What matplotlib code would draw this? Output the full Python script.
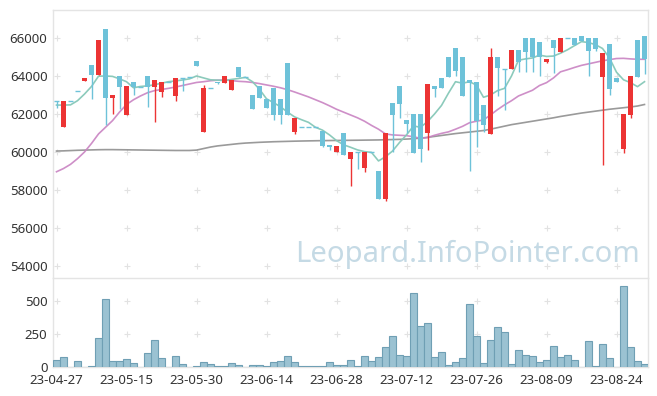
import matplotlib
matplotlib.use('Agg')
import matplotlib.pyplot as plt
import numpy as np

plt.rcParams['font.family'] = ['Noto Sans', 'DejaVu Sans']

dates = ["23-04-27","23-04-28","23-05-02","23-05-03","23-05-04","23-05-08","23-05-09","23-05-10","23-05-11","23-05-12",
         "23-05-15","23-05-16","23-05-17","23-05-18","23-05-19","23-05-22","23-05-23","23-05-24","23-05-25","23-05-26",
         "23-05-30","23-05-31","23-06-01","23-06-02","23-06-05","23-06-07","23-06-08","23-06-09","23-06-12","23-06-13",
         "23-06-14","23-06-15","23-06-16","23-06-19","23-06-20","23-06-21","23-06-22","23-06-23","23-06-26","23-06-27",
         "23-06-28","23-06-29","23-06-30","23-07-03","23-07-04","23-07-05","23-07-06","23-07-07","23-07-10","23-07-11",
         "23-07-12","23-07-13","23-07-14","23-07-17","23-07-18","23-07-19","23-07-20","23-07-21","23-07-24","23-07-25",
         "23-07-26","23-07-27","23-07-28","23-07-31","23-08-01","23-08-02","23-08-03","23-08-04","23-08-07","23-08-08",
         "23-08-09","23-08-10","23-08-11","23-08-14","23-08-16","23-08-17","23-08-18","23-08-21","23-08-22","23-08-23",
         "23-08-24","23-08-25","23-08-28","23-08-29","23-08-30"]

open_ = [62700,61330,62700,63200,63750,64580,64050,66470,62860,64000,
         61950,63680,63420,64000,63400,63180,63680,62960,63890,63950,
         64790,61070,63350,63700,63650,63280,64490,63960,63000,63470,
         62790,63380,62790,64700,61070,61300,61300,61300,61100,60370,
         59980,61000,59650,59980,59170,59980,59000,57530,62570,63470,
         61680,62000,62000,61000,63470,63880,65000,65460,65000,63790,
         63690,62470,60950,65000,64350,64350,65370,65980,65980,65770,
         64750,65900,65280,65980,65980,66100,65980,65980,63960,65680,
         63890,60180,61950,65900,66100]
high = [62700,62700,62700,63200,63900,64580,65900,66470,63000,64000,
        63470,63680,63420,64000,63790,63680,63680,63890,63890,63950,
        64790,63530,63350,63700,64000,63790,64490,63960,63000,63470,
        62790,63380,62790,64700,61810,61300,61300,61300,61100,60370,
        60320,61000,59980,59980,59980,59980,59000,61000,62570,63470,
        61680,62000,62000,63580,63470,63880,65000,65460,65000,63790,
        63690,62470,65460,65000,64350,65370,65370,65980,65980,65770,
        64880,65900,65980,65980,65980,66100,65980,65980,65230,65680,
        63890,62000,64000,65900,66100]
low = [62300,61330,62700,63200,63750,62770,64050,61420,61990,62280,
       61950,63000,63420,62350,61560,62880,63680,62680,63210,63950,
       64540,61070,63350,63560,63650,63280,63960,63960,62280,62860,
       62330,61680,61460,61950,60950,61300,61300,61300,60280,60090,
       59980,59840,58200,59100,58960,59980,57550,57430,60020,61770,
       60980,59970,59460,60100,62910,63350,63960,63980,62950,59000,
       60280,61050,60950,62930,62210,64350,64230,64230,64230,64000,
       64670,64180,65280,65980,65630,65860,64000,65330,59320,63000,
       63670,59970,61770,63960,64110]
close = [62700,62700,62700,63200,63900,64050,65900,62860,63000,63440,
         63470,63400,63420,63420,63790,63680,63680,63890,63890,63950,
         64540,63390,63350,63610,64000,63790,63960,63960,62280,62860,
         62330,61950,61950,61950,61810,61300,61300,61300,60330,60260,
         60320,59840,59980,59980,59980,59980,57550,61000,61960,62530,
         61460,59970,60180,63580,63300,63350,63960,64280,62950,63650,
         61640,61420,65000,64440,64350,65370,64750,65280,64980,64980,
         64880,65460,65980,65980,65630,65860,65330,65400,65230,63300,
         63670,62000,64000,63960,64880]
volume = [51,73,0,43,1,8,220,515,43,43,
          58,30,0,104,202,66,0,81,20,0,
          5,35,20,5,5,28,13,0,13,13,
          5,35,43,81,35,4,4,4,5,35,
          13,13,50,5,81,43,73,149,235,88,
          81,558,311,331,73,111,13,35,66,475,
          235,28,202,303,263,20,126,88,81,35,
          50,157,73,88,50,0,194,5,172,66,
          0,611,149,43,20]
ma5 = [62470,62470,62480,62700,63050,63450,63990,64000,63980,63850,
       63700,63380,63450,63480,63540,63620,63700,63740,63790,63850,
       64000,63900,63800,63780,63760,63820,63870,63930,63700,63300,
       62800,62600,62380,62100,61850,61700,61560,61300,61150,60900,
       60600,60380,60250,60110,60020,59980,59530,59750,60050,60500,
       60900,61370,61300,61600,62000,62450,63100,63700,63620,63700,
       63520,62880,63000,63230,63350,64000,64830,64900,64950,65100,
       65030,65050,65200,65380,65600,65810,65760,65650,65450,64950,
       64200,63800,63650,63440,63700]
ma20 = [58960,59130,59350,59650,60000,60450,60950,61300,61650,62100,
        62500,62750,62950,63120,63230,63290,63350,63420,63500,63580,
        63660,63700,63750,63780,63790,63760,63720,63700,63660,63600,
        63530,63460,63380,63280,63160,63030,62900,62750,62600,62430,
        62250,62100,61950,61800,61620,61400,61200,60950,60900,60880,
        60860,60800,60720,60760,60880,60980,61060,61200,61350,61540,
        61620,61690,61950,62230,62480,62700,62950,63100,63250,63500,
        63650,63900,64220,64330,64450,64560,64640,64720,64800,64860,
        64920,64930,64900,64880,64880]
ma120 = [60050,60060,60075,60090,60100,60110,60120,60125,60125,60120,
         60115,60110,60105,60100,60095,60090,60085,60080,60080,60080,
         60100,60180,60260,60320,60360,60400,60440,60470,60490,60510,
         60525,60540,60550,60560,60570,60578,60585,60592,60598,60603,
         60608,60612,60616,60620,60625,60630,60635,60645,60655,60665,
         60680,60700,60730,60770,60820,60870,60920,60970,61010,61050,
         61090,61130,61200,61280,61360,61440,61500,61560,61620,61680,
         61740,61800,61870,61930,61990,62050,62100,62150,62200,62250,
         62290,62330,62370,62420,62500]

price_ticks = [54000, 56000, 58000, 60000, 62000, 64000, 66000]
vol_ticks = [0, 250, 500]
xtick_idx = list(range(0, 85, 10))

RED = '#ec3434'
BLUE = '#6ec2d9'
GRID = '#e2e2e2'
SPINE = '#e4e4e4'
TXT = '#333333'

W, H = 657, 396
fig = plt.figure(figsize=(W/100, H/100), dpi=100)
L, R = 53, 648
T, SEP, BOT = 10, 278, 367
axp = fig.add_axes([L/W, 1-SEP/H, (R-L)/W, (SEP-T)/H])
axv = fig.add_axes([L/W, 1-BOT/H, (R-L)/W, (BOT-SEP)/H], sharex=axp)

n = len(dates)
x = np.arange(n)
o = np.array(open_); h = np.array(high); lo = np.array(low); c = np.array(close)
up = c > o
cols = np.where(up, RED, BLUE)
bw = 0.7

# watermark (behind marks)
fig.text(467/W, 1-254/H, 'Leopard.InfoPointer.com', ha='center', va='center',
         fontsize=21, color='#c5dae5', zorder=0.5)

# wicks
axp.vlines(x, lo, h, colors=cols, linewidth=1.0, zorder=3)
# bodies
for i in range(n):
    if o[i] == c[i]:
        axp.hlines(o[i], i - bw/2, i + bw/2, colors=cols[i], linewidth=1.0, zorder=4)
    else:
        axp.bar(i, abs(c[i]-o[i]), bottom=min(o[i], c[i]), width=bw,
                color=cols[i], linewidth=0, zorder=4)

axp.plot(x, ma120, color='#8f8f8f', lw=1.2, alpha=0.9, zorder=2)
axp.plot(x, ma20, color='#c983c2', lw=1.2, alpha=0.9, zorder=2)
axp.plot(x, ma5, color='#86c8b8', lw=1.2, alpha=0.95, zorder=2)

# grid crosses
gx, gy = np.meshgrid(xtick_idx, price_ticks)
axp.plot(gx.ravel(), gy.ravel(), '+', color=GRID, ms=5, mew=0.8, zorder=0)
gx2, gy2 = np.meshgrid(xtick_idx, [250, 500])
axv.plot(gx2.ravel(), gy2.ravel(), '+', color=GRID, ms=5, mew=0.8, zorder=0)

axp.set_xlim(-0.5, n - 0.5)
axp.set_ylim(53368, 67474)
axp.set_yticks(price_ticks)
axp.set_yticklabels([str(t) for t in price_ticks])
axp.tick_params(axis='x', bottom=False, labelbottom=False)

axv.bar(x, volume, width=1.0, color='#9bc2d2', edgecolor='#6f9fb4', linewidth=0.8, zorder=3)
axv.set_ylim(0, 674)
axv.set_yticks(vol_ticks)
axv.set_yticklabels([str(t) for t in vol_ticks])
axv.set_xticks(xtick_idx)
axv.set_xticklabels([dates[i] for i in xtick_idx])

for ax in (axp, axv):
    ax.tick_params(length=0, labelsize=9.5, labelcolor=TXT, pad=4)
    for s in ax.spines.values():
        s.set_color(SPINE)
        s.set_linewidth(1.0)
    ax.patch.set_alpha(0)
axv.tick_params(axis='x', pad=5)
axv.spines['top'].set_visible(False)

fig.savefig('out.png', dpi=100, facecolor='white')
